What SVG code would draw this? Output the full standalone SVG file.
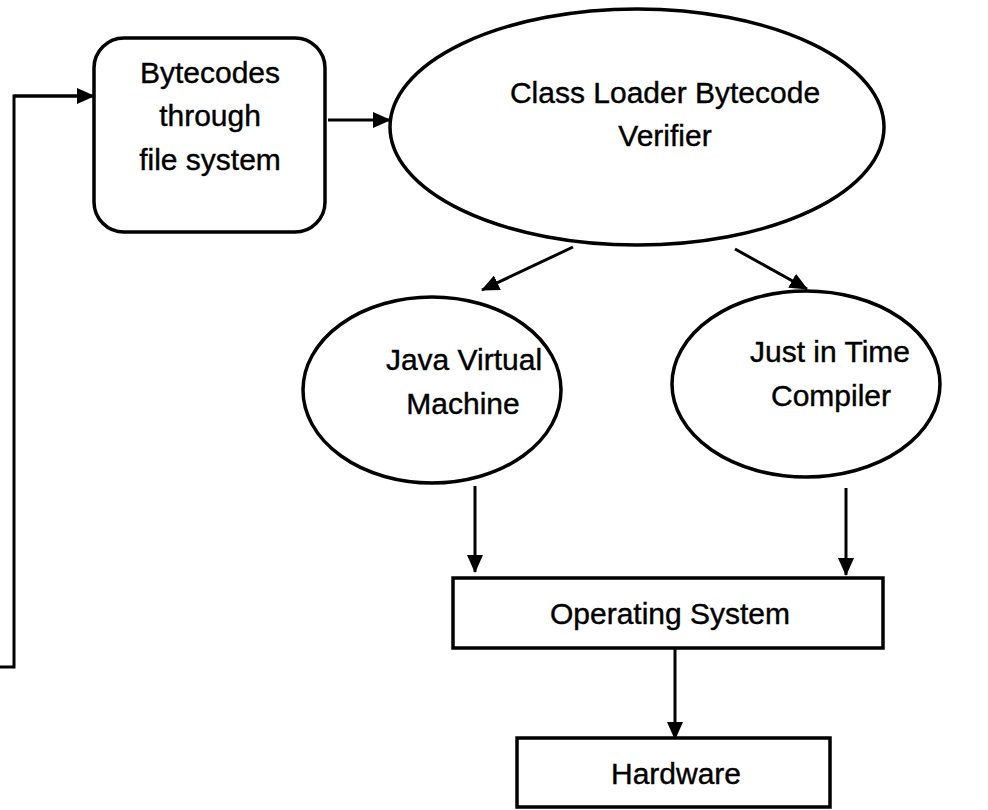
<svg xmlns="http://www.w3.org/2000/svg" width="988" height="810" viewBox="0 0 988 810">
<defs>
<marker id="ah" viewBox="0 0 18 16" refX="17" refY="8" markerWidth="18" markerHeight="16" markerUnits="userSpaceOnUse" orient="auto">
<path d="M0,0 L18,8 L0,16 Z" fill="#000"/>
</marker>
<style>
.shape{fill:#fff;stroke:#000;stroke-width:3.5}
.line{fill:none;stroke:#000;stroke-width:3}
.conn{fill:none;stroke:#000;stroke-width:3;marker-end:url(#ah)}
text{font-family:"Liberation Sans",Arial,sans-serif;font-size:30px;fill:#000;stroke:#000;stroke-width:0.4;text-anchor:middle}
</style>
</defs>
<rect width="988" height="810" fill="#fff"/>
<g id="connectors">
<path class="line" d="M0,667 H14 V96 H80"/>
<path class="conn" d="M14,96 H94"/>
<path class="conn" d="M328,120 H390"/>
<path class="conn" d="M573,247 L482,290"/>
<path class="conn" d="M735,249 L807,289"/>
<path class="conn" d="M475,486 V572"/>
<path class="conn" d="M846,488 V575"/>
<path class="conn" d="M675,649 V739"/>
</g>
<g id="bytecodes">
<rect class="shape" x="94" y="38" width="231" height="194" rx="30" ry="30"/>
<text x="210" y="83">Bytecodes</text>
<text x="210" y="126">through</text>
<text x="210" y="170">file system</text>
</g>
<g id="classloader">
<ellipse class="shape" cx="637" cy="127" rx="247" ry="118"/>
<text x="665" y="103">Class Loader Bytecode</text>
<text x="665" y="146">Verifier</text>
</g>
<g id="jvm">
<ellipse class="shape" cx="432" cy="390" rx="129" ry="93"/>
<text x="464" y="370">Java Virtual</text>
<text x="463" y="414">Machine</text>
</g>
<g id="jit">
<ellipse class="shape" cx="806" cy="384" rx="134" ry="93"/>
<text x="830" y="362">Just in Time</text>
<text x="831" y="406">Compiler</text>
</g>
<g id="os">
<rect class="shape" x="453" y="578" width="430" height="70"/>
<text x="670" y="624">Operating System</text>
</g>
<g id="hardware">
<rect class="shape" x="517" y="738" width="313" height="69"/>
<text x="676" y="784">Hardware</text>
</g>
</svg>
